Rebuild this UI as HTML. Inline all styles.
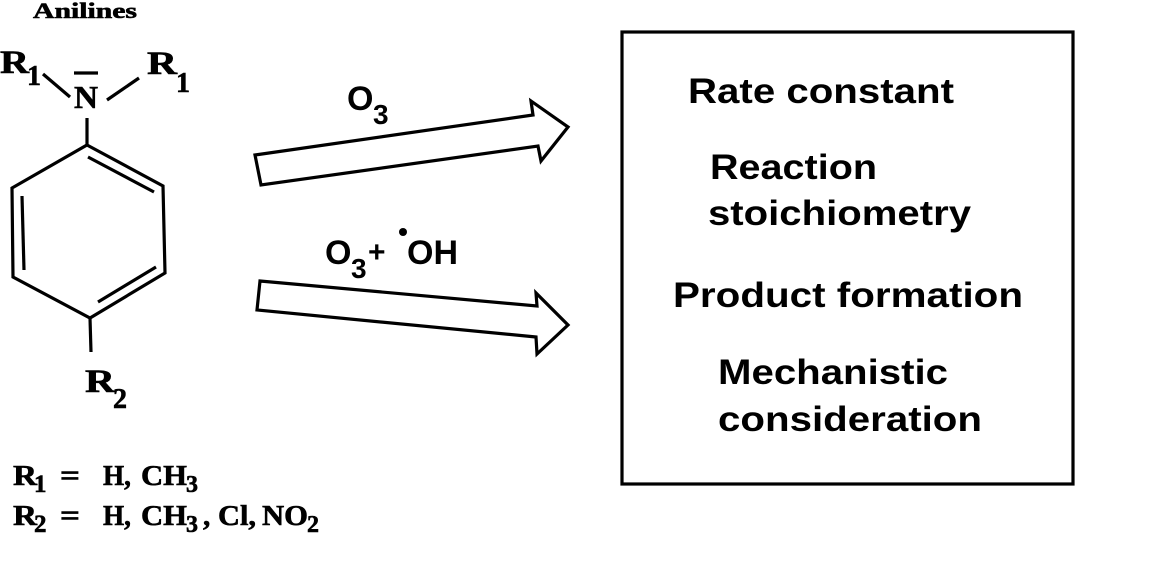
<!DOCTYPE html>
<html><head><style>html,body{margin:0;padding:0;background:#fff;}svg{display:block}</style></head>
<body>
<svg width="1159" height="566" viewBox="0 0 1159 566" xmlns="http://www.w3.org/2000/svg">
<g stroke="#000" stroke-width="3.2" fill="none" stroke-linecap="butt" stroke-linejoin="miter">
<polygon points="87,145 163,186 165,273 90,318 13,277 12,188"/>
<line x1="88" y1="157" x2="154" y2="192"/>
<line x1="156" y1="267" x2="98" y2="302"/>
<line x1="22" y1="196" x2="24" y2="270"/>
<line x1="87" y1="118" x2="87" y2="145"/>
<line x1="90" y1="318" x2="91" y2="352"/>
<line x1="43" y1="74" x2="70" y2="97"/>
<line x1="107" y1="100" x2="139" y2="78"/>
<line x1="74" y1="73" x2="98" y2="73"/>
<polygon points="255,155 533,115 531,101 568,127 541,161 538,146 261,185"/>
<polygon points="260,281 537,306 536,293 568,325 537,354 536,337 257,310"/>
<rect x="622" y="32" width="451" height="452"/>
</g>
<g font-family="Liberation Serif, serif" font-weight="bold" fill="#000" stroke="#000" stroke-width="0.6">
<text x="33" y="18" font-size="22" textLength="104" lengthAdjust="spacingAndGlyphs">Anilines</text>
<text x="0" y="73" font-size="33" textLength="29" lengthAdjust="spacingAndGlyphs">R</text><text x="27" y="85" font-size="28">1</text>
<text x="147" y="74" font-size="33" textLength="30" lengthAdjust="spacingAndGlyphs">R</text><text x="176" y="92" font-size="28">1</text>
<text x="74" y="108" font-size="32" textLength="24" lengthAdjust="spacingAndGlyphs">N</text>
<text x="85" y="392" font-size="33" textLength="30" lengthAdjust="spacingAndGlyphs">R</text><text x="113" y="408" font-size="28">2</text>
<text x="13" y="485" font-size="29" textLength="24" lengthAdjust="spacingAndGlyphs">R</text><text x="34" y="492" font-size="25">1</text>
<text x="60" y="485" font-size="30" textLength="20" lengthAdjust="spacingAndGlyphs">=</text>
<text x="103" y="485" font-size="29" textLength="28" lengthAdjust="spacingAndGlyphs">H,</text>
<text x="141" y="485" font-size="29" textLength="46" lengthAdjust="spacingAndGlyphs">CH</text><text x="186" y="492" font-size="24">3</text>
<text x="13" y="525" font-size="29" textLength="24" lengthAdjust="spacingAndGlyphs">R</text><text x="34" y="532" font-size="25">2</text>
<text x="60" y="525" font-size="30" textLength="20" lengthAdjust="spacingAndGlyphs">=</text>
<text x="103" y="525" font-size="29" textLength="28" lengthAdjust="spacingAndGlyphs">H,</text>
<text x="141" y="525" font-size="29" textLength="46" lengthAdjust="spacingAndGlyphs">CH</text><text x="186" y="532" font-size="24">3</text>
<text x="203" y="525" font-size="29">,</text>
<text x="218" y="525" font-size="29" textLength="38" lengthAdjust="spacingAndGlyphs">Cl,</text>
<text x="262" y="525" font-size="29" textLength="46" lengthAdjust="spacingAndGlyphs">NO</text><text x="307" y="532" font-size="24">2</text>
</g>
<g font-family="Liberation Sans, Arial, sans-serif" font-weight="bold" fill="#000">
<text x="347" y="110" font-size="34">O</text><text x="373" y="124" font-size="28">3</text>
<text x="325" y="264" font-size="34">O</text><text x="351" y="278" font-size="28">3</text>
<text x="368" y="262" font-size="30">+</text>
<text x="407" y="264" font-size="34">OH</text>
<circle cx="403" cy="232" r="4"/>
<text x="688" y="103" font-size="35" textLength="266" lengthAdjust="spacingAndGlyphs">Rate constant</text>
<text x="710" y="179" font-size="35" textLength="167" lengthAdjust="spacingAndGlyphs">Reaction</text>
<text x="708" y="225" font-size="35" textLength="263" lengthAdjust="spacingAndGlyphs">stoichiometry</text>
<text x="673" y="307" font-size="35" textLength="350" lengthAdjust="spacingAndGlyphs">Product formation</text>
<text x="718" y="384" font-size="35" textLength="230" lengthAdjust="spacingAndGlyphs">Mechanistic</text>
<text x="718" y="431" font-size="35" textLength="264" lengthAdjust="spacingAndGlyphs">consideration</text>
</g>
</svg>
</body></html>
